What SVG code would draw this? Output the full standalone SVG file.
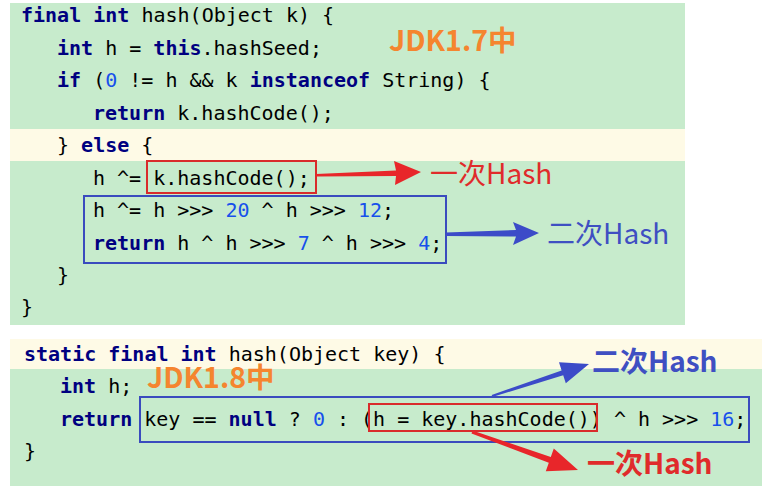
<svg xmlns="http://www.w3.org/2000/svg" width="776" height="491" viewBox="0 0 776 491">
<style>
.code{font-family:"DejaVu Sans Mono","Liberation Mono",monospace;font-size:20px;fill:#000000;}
.kw{font-weight:bold;fill:#000080;}
.num{fill:#1750EB;}
.green{fill:#C7EBCC;}
.yellow{fill:#FEFAE6;}
.jdk{font-family:"Noto Sans CJK SC","Noto Sans",sans-serif;font-weight:bold;font-size:28.5px;fill:#F5852F;}
.lbl{font-family:"Noto Sans CJK SC","Noto Sans",sans-serif;font-size:28px;}
.lblb{font-family:"Noto Sans CJK SC","Noto Sans",sans-serif;font-size:28px;font-weight:bold;}
.redbox{fill:none;stroke:#D92B2B;stroke-width:2;}
.bluebox{fill:none;stroke:#3A4BBE;stroke-width:2;}
.redarrow{fill:#E8262A;}
.bluearrow{fill:#3C4BC8;}
</style>
<rect width="776" height="491" fill="#FFFFFF"/>
<g id="panel-jdk17">
<rect class="green" x="10" y="3" width="675" height="322"/>
<rect class="yellow" x="10" y="129" width="675" height="32"/>
<text class="code" xml:space="preserve" x="21" y="22"><tspan class="kw">final</tspan> <tspan class="kw">int</tspan> hash(Object k) {</text>
<text class="code" xml:space="preserve" x="57" y="54.5"><tspan class="kw">int</tspan> h = <tspan class="kw">this</tspan>.hashSeed;</text>
<text class="code" xml:space="preserve" x="57" y="87"><tspan class="kw">if</tspan> (<tspan class="num">0</tspan> != h &amp;&amp; k <tspan class="kw">instanceof</tspan> String) {</text>
<text class="code" xml:space="preserve" x="93" y="119.5"><tspan class="kw">return</tspan> k.hashCode();</text>
<text class="code" xml:space="preserve" x="57" y="152">} <tspan class="kw">else</tspan> {</text>
<text class="code" xml:space="preserve" x="93" y="185">h ^= k.hashCode();</text>
<text class="code" xml:space="preserve" x="93" y="217">h ^= h &gt;&gt;&gt; <tspan class="num">20</tspan> ^ h &gt;&gt;&gt; <tspan class="num">12</tspan>;</text>
<text class="code" xml:space="preserve" x="93" y="250"><tspan class="kw">return</tspan> h ^ h &gt;&gt;&gt; <tspan class="num">7</tspan> ^ h &gt;&gt;&gt; <tspan class="num">4</tspan>;</text>
<text class="code" x="57" y="282">}</text>
<text class="code" x="21" y="314">}</text>
<text class="jdk" x="389" y="51">JDK1.7中</text>
</g>
<g id="panel-jdk18">
<rect class="yellow" x="10" y="339" width="752" height="30"/>
<rect class="green" x="10" y="369" width="752" height="117"/>
<text class="code" xml:space="preserve" x="24" y="361"><tspan class="kw">static final int</tspan> hash(Object key) {</text>
<text class="code" xml:space="preserve" x="60" y="393"><tspan class="kw">int</tspan> h;</text>
<text class="code" xml:space="preserve" x="60" y="426"><tspan class="kw">return</tspan> key == <tspan class="kw">null</tspan> ? <tspan class="num">0</tspan> : (h = key.hashCode()) ^ h &gt;&gt;&gt; <tspan class="num">16</tspan>;</text>
<text class="code" x="24" y="458">}</text>
<text class="jdk" x="147" y="388">JDK1.8中</text>
</g>
<g id="box-first-hash-17">
<rect class="redbox" x="147" y="161" width="169" height="32"/>
</g>
<g id="box-second-hash-17">
<rect class="bluebox" x="84" y="196" width="362" height="67"/>
</g>
<g id="box-second-hash-18">
<rect class="bluebox" x="140" y="397" width="609" height="45"/>
</g>
<g id="box-first-hash-18">
<rect class="redbox" x="369" y="404" width="228" height="27"/>
</g>
<g id="label-first-hash-17">
<text class="lbl" x="430" y="184" fill="#E02B2B">一次Hash</text>
</g>
<g id="label-second-hash-17">
<text class="lbl" x="547" y="244" fill="#3F4FC2">二次Hash</text>
</g>
<g id="label-second-hash-18">
<text class="lblb" x="592" y="372" fill="#3F4FC2">二次Hash</text>
</g>
<g id="label-first-hash-18">
<text class="lblb" x="587" y="474" fill="#E02B2B">一次Hash</text>
</g>
<g id="connectors">
<polygon class="redarrow" points="316,174 396,170.5 394,161 421,172 395,185 396,176 316,176.5"/>
<polygon class="bluearrow" points="446,232.5 516,230 513,222 539,233 513,245 516,236.5 446,236"/>
<polygon class="bluearrow" points="491.7,395 561.6,370.4 559,362.3 589,364 565.8,383.2 563.2,375.2 492.3,397"/>
<polygon class="redarrow" points="472.5,430.6 550.8,457.1 553.8,448.6 578,470 545.8,471.2 548.8,462.7 471.5,433.4"/>
</g>
</svg>
